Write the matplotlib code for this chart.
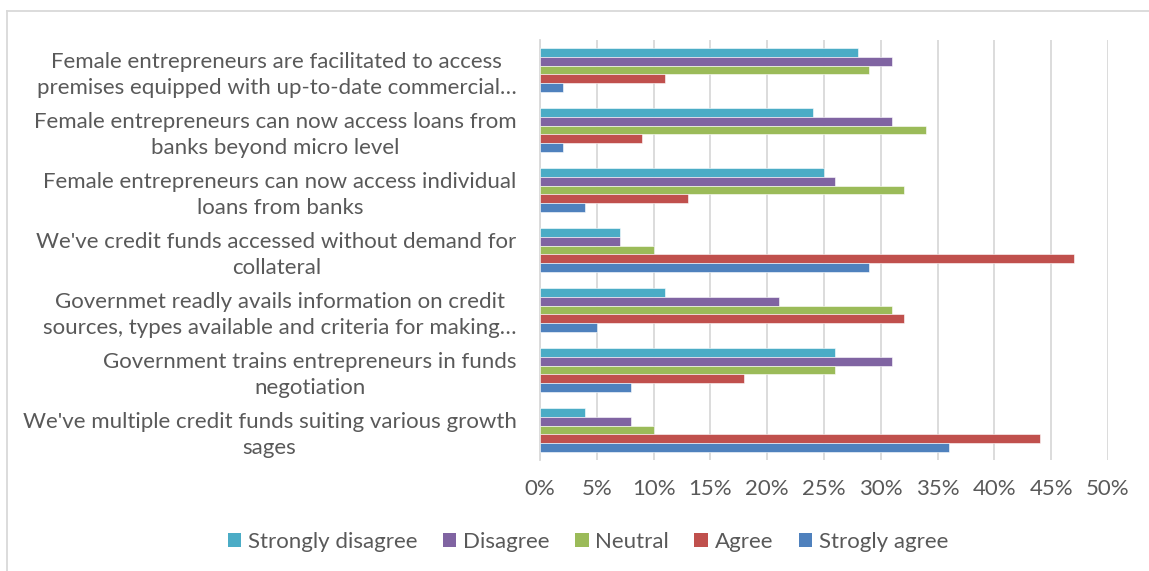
import matplotlib
matplotlib.use("Agg")
import matplotlib.pyplot as plt
from matplotlib.lines import Line2D
from matplotlib.ticker import FuncFormatter, MultipleLocator
from matplotlib.patches import Patch
import numpy as np

plt.rcParams['font.family'] = ['Lato', 'DejaVu Sans']

statements = [
    "Female entrepreneurs are facilitated to access\npremises equipped with up-to-date commercial\u2026",
    "Female entrepreneurs can now access loans from\nbanks beyond micro level",
    "Female entrepreneurs can now access individual\nloans from banks",
    "We've credit funds accessed without demand for\ncollateral",
    "Governmet readly avails information on credit\nsources, types available and criteria for making\u2026",
    "Government trains entrepreneurs in funds\nnegotiation",
    "We've multiple credit funds suiting various growth\nsages",
]

series_names = ["Strongly disagree", "Disagree", "Neutral", "Agree", "Strogly agree"]
strongly_disagree = [28, 24, 25, 7, 11, 26, 4]
disagree = [31, 31, 26, 7, 21, 31, 8]
neutral = [29, 34, 32, 10, 31, 26, 10]
agree = [11, 9, 13, 47, 32, 18, 44]
strongly_agree = [2, 2, 4, 29, 5, 8, 36]
series_values = [strongly_disagree, disagree, neutral, agree, strongly_agree]
colors = ["#4BACC6", "#8064A2", "#9BBB59", "#C0504D", "#4F81BD"]

text_color = "#595959"
grid_color = "#D9D9D9"
fs = 16

fig = plt.figure(figsize=(11.49, 5.71), dpi=100)
ax = fig.add_axes([540 / 1149, 1 - 460 / 571, 568 / 1149, 420 / 571])

n = len(statements)
centers = np.arange(n)[::-1].astype(float)
bar_h = 0.147
for j, (vals, col) in enumerate(zip(series_values, colors)):
    offs = (2 - j) * bar_h
    ax.barh(centers + offs, np.array(vals) / 100.0, height=bar_h, color=col,
            edgecolor="white", linewidth=0.4, label=series_names[j], zorder=3)

ax.set_xlim(0, 0.5)
ax.set_ylim(-0.5, n - 0.5)
ax.xaxis.set_major_locator(MultipleLocator(0.05))
ax.xaxis.set_major_formatter(FuncFormatter(lambda v, p: f"{v * 100:.0f}%"))
ax.grid(axis="x", color=grid_color, linewidth=1.3, zorder=0)
ax.set_axisbelow(True)

ax.set_yticks(centers)
ax.set_yticklabels(statements, multialignment="center", linespacing=1.4)
ax.tick_params(axis="y", length=0, pad=17, labelsize=fs, labelcolor=text_color)
ax.tick_params(axis="x", length=0, pad=14, labelsize=fs, labelcolor=text_color)

for side in ["top", "right", "bottom"]:
    ax.spines[side].set_visible(False)
ax.spines["left"].set_color(grid_color)
ax.spines["left"].set_linewidth(1.3)

handles = [Patch(facecolor=c, edgecolor="none") for c in colors]
leg = fig.legend(handles, series_names, loc="center", ncol=5,
                 bbox_to_anchor=(588 / 1149, 1 - 542 / 571), frameon=False,
                 fontsize=fs, handlelength=0.6, handleheight=0.6,
                 handletextpad=0.3, columnspacing=1.15)
for t in leg.get_texts():
    t.set_color(text_color)

# chart area outline (top and left edges)
y_top = 1 - 11 / 571
x_left = 7 / 1149
fig.add_artist(Line2D([x_left, 1.0], [y_top, y_top], transform=fig.transFigure,
                      color=grid_color, linewidth=1.3))
fig.add_artist(Line2D([x_left, x_left], [0, y_top], transform=fig.transFigure,
                      color=grid_color, linewidth=1.3))

fig.savefig("out.png", dpi=100, facecolor="white")
